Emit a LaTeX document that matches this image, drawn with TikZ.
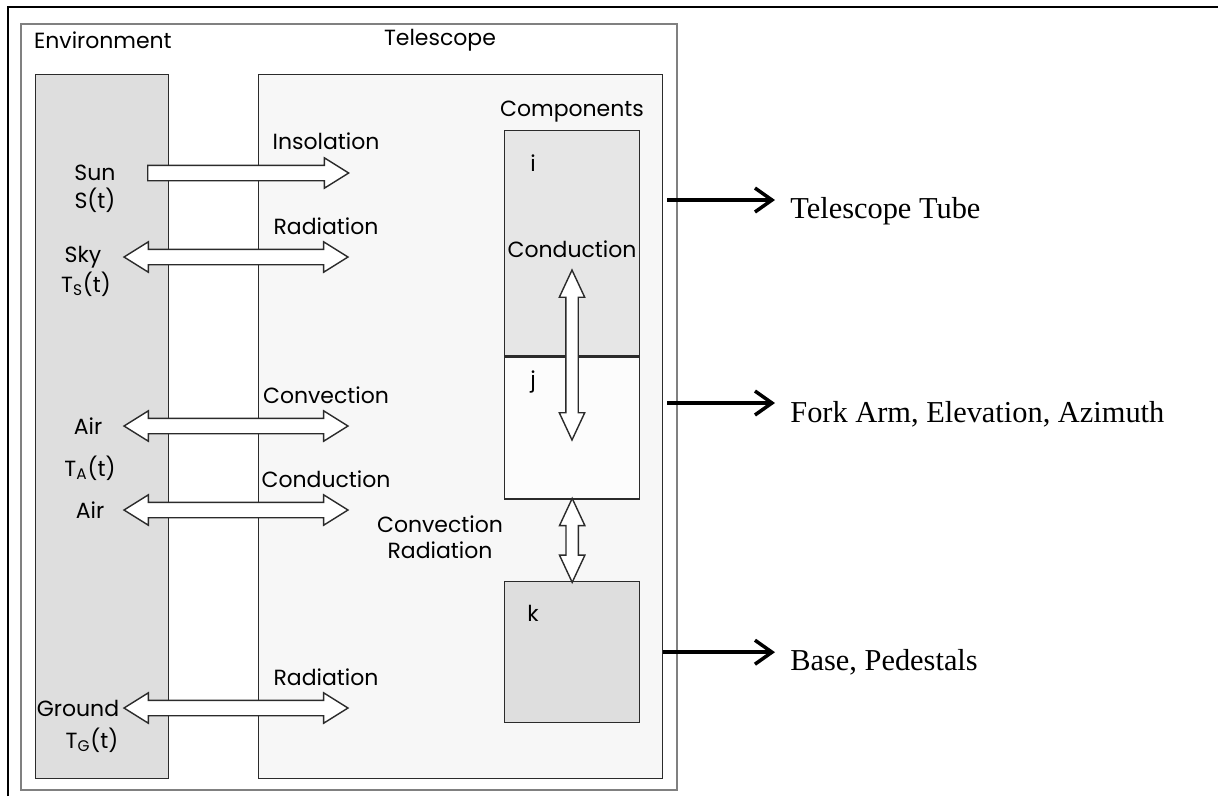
\documentclass[tikz,border=0pt]{standalone}
\usepackage{fontspec}
\setmainfont{Poppins}
\newfontfamily\timesfont{Liberation Serif}
\usepackage{tikz}
\usetikzlibrary{
	arrows.meta,
	calc,
	positioning,
	shapes.arrows
}
\definecolor{envgray}{HTML}{DEDEDE}
\definecolor{telgray}{HTML}{F7F7F7}
\definecolor{compi}{HTML}{E6E6E6}
\definecolor{compj}{HTML}{FCFCFC}
\definecolor{edge}{HTML}{2B2B2B}

\tikzset{
	box/.style={draw=edge, line width=0.8pt, anchor=north west, inner sep=0pt},
	lbl/.style={font=\fontsize{12.5}{15}\selectfont, inner sep=1pt, align=center},
	flowtwo/.style={double arrow, draw=edge, fill=white, line width=0.8pt,
		inner xsep=0pt, inner ysep=0.14cm, double arrow head extend=0.15cm,
		double arrow tip angle=64},
	flowone/.style={single arrow, draw=edge, fill=white, line width=0.8pt,
		inner xsep=0pt, inner ysep=0.14cm, single arrow head extend=0.15cm,
		single arrow tip angle=64},
	flowup/.style={flowtwo, rotate=90, inner ysep=0.11cm,
		double arrow head extend=0.13cm, double arrow tip angle=50},
	partarrow/.style={line width=2pt, -{Straight Barb[length=3.4mm, width=4.8mm]}},
	partlbl/.style={font=\timesfont\fontsize{17.3}{20}\selectfont, anchor=base west,
		inner ysep=0pt, inner xsep=0.3cm}
}

\begin{document}
\begin{tikzpicture}[x=0.02cm, y=-0.02cm]
	\useasboundingbox (0,0) rectangle (1218,796);
	% frame and boxes
	\draw[line width=1.1pt] (8,796) -- (8,7) -- (1218,7);
	\node[box, draw=gray, line width=1pt, minimum width=13.12cm, minimum height=15.32cm] (outer) at (20,23) {};
	\node[box, fill=envgray, minimum width=2.66cm, minimum height=14.08cm] (env) at (35,74) {};
	\node[box, fill=telgray, minimum width=8.08cm, minimum height=14.08cm] (tel) at (258,74) {};
	\node[lbl, anchor=west] (envlbl) at (32,40) {Environment};
	\node[lbl] (tellbl) at (440,40) {Telescope};

	% components
	\node[box, fill=compi, minimum width=2.7cm, minimum height=4.5cm] (ci) at (504,130) {};
	\node[box, fill=compj, minimum width=2.7cm, minimum height=2.84cm] (cj) at (ci.south west) {};
	\node[box, fill=envgray, minimum width=2.7cm, minimum height=2.82cm] (ck) at (504,581) {};
	\node[lbl] (complbl) at (572,112) {Components};
	\node[lbl] (ilbl) at (533,163) {i};
	\node[lbl] (jlbl) at (533,382) {j};
	\node[lbl] (klbl) at (533,613) {k};
	\node[lbl] (condlbl) at (572,249) {Conduction};
	\node[flowup, minimum height=3.4cm] (ijflow) at (572,355) {};
	\node[flowup, minimum height=1.68cm] (jkflow) at ($(cj.south)!0.5!(ck.north)$) {};
	\node[lbl] (convrad) at (440,537) {Convection\\Radiation};

	% exchange with the environment
	\node[flowone, minimum height=4.02cm, anchor=tail] (flow-sun) at (147,173) {};
	\node[lbl] (flowlbl-sun) at (326,141) {Insolation};
	\foreach \yy/\nm/\txt in {257/sky/Radiation, 426/air/Convection, 510/airc/Conduction, 708/ground/Radiation}{
		\node[flowtwo, minimum height=4.48cm] (flow-\nm) at (236,\yy) {};
		\node[lbl] (flowlbl-\nm) at (326,\yy-31) {\txt};
	}
	\node[lbl] (sun) at (95,173) {Sun};
	\node[lbl] (sunt) at (95,200) {S(t)};
	\node[lbl] (sky) at (83,257) {Sky};
	\node[lbl] (skyt) at (86,284) {T\textsubscript{S}(t)};
	\node[lbl] (air) at (88,426) {Air};
	\node[lbl] (airt) at (90,468) {T\textsubscript{A}(t)};
	\node[lbl] (air2) at (90,510) {Air};
	\node[lbl] (ground) at (78,708) {Ground};
	\node[lbl] (groundt) at (92,740) {T\textsubscript{G}(t)};

	% parts
	\coordinate (tube) at (667,200);
	\coordinate (fork) at (667,403);
	\coordinate (base) at (tel.east |- ck);
	\node[partlbl] (tubelbl) at (775,218) {Telescope Tube};
	\node[partlbl] (forklbl) at (775,422) {Fork Arm, Elevation, Azimuth};
	\node[partlbl] (baselbl) at (775,670) {Base, Pedestals};
	\draw[partarrow] (tube) -- (tube -| tubelbl.west);
	\draw[partarrow] (fork) -- (fork -| forklbl.west);
	\draw[partarrow] (base) -- (base -| baselbl.west);
\end{tikzpicture}
\end{document}
